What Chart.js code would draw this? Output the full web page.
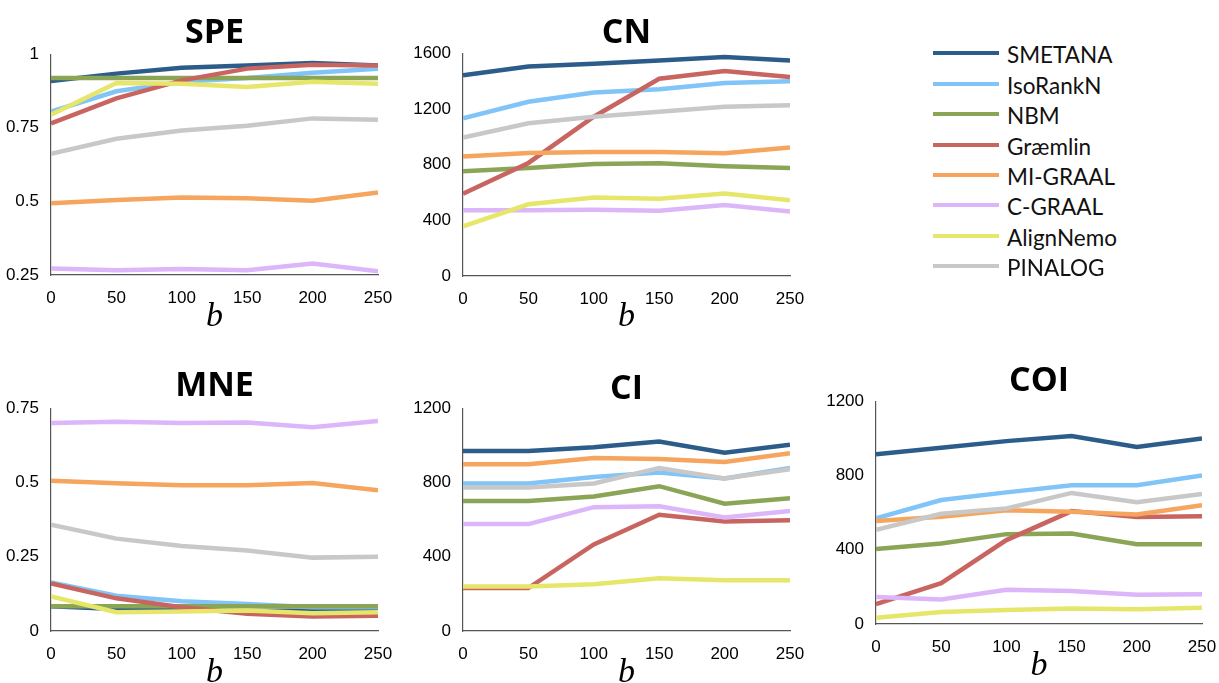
<!DOCTYPE html>
<html>
<head>
<meta charset="utf-8">
<script src="https://cdn.jsdelivr.net/npm/chart.js@4.4.1/dist/chart.umd.min.js"></script>
<style>
  html, body { margin: 0; padding: 0; background: #fff; }
  body { width: 1219px; height: 683px; position: relative; overflow: hidden; }
  canvas { position: absolute; }
  .title { position: absolute; font: 700 34px "Open Sans", sans-serif; line-height: 1; transform: translate(-50%, -50%); color: #000; white-space: nowrap; }
  .blab { position: absolute; font: italic 34px "Liberation Serif", serif; line-height: 34px; transform: translateX(-50%); color: #000; }
  .leg-line { position: absolute; left: 933px; width: 66px; height: 4px; }
  .leg-text { position: absolute; left: 1007px; font: 22.5px Lato, sans-serif; line-height: 1; transform: translateY(-50%); color: #111; white-space: nowrap; }
</style>
</head>
<body>
<script>
// x values (b) shared by every panel
const B_VALUES = [0, 50, 100, 150, 200, 250];

const METHODS = ["SMETANA", "IsoRankN", "NBM", "Græmlin", "MI-GRAAL", "C-GRAAL", "AlignNemo", "PINALOG"];
const COLORS = ["#2c5d8a", "#80c4f8", "#8aa556", "#c96560", "#f6a55e", "#dcb6f8", "#e6e66a", "#c8c8c8"];

// one row per method, same order as METHODS
const SPE = [
  [0.909, 0.934, 0.954, 0.962, 0.970, 0.962],
  [0.805, 0.874, 0.906, 0.919, 0.937, 0.951],
  [0.919, 0.919, 0.919, 0.919, 0.919, 0.919],
  [0.765, 0.850, 0.911, 0.951, 0.964, 0.962],
  [0.494, 0.505, 0.513, 0.511, 0.502, 0.530],
  [0.272, 0.266, 0.270, 0.266, 0.289, 0.263],
  [0.794, 0.902, 0.900, 0.889, 0.906, 0.900],
  [0.662, 0.713, 0.741, 0.757, 0.782, 0.777]
];

const CN = [
  [1441, 1505, 1524, 1548, 1572, 1548],
  [1132, 1251, 1318, 1341, 1386, 1398],
  [753, 776, 805, 810, 788, 776],
  [591, 812, 1144, 1417, 1472, 1429],
  [859, 883, 890, 890, 881, 923],
  [472, 472, 475, 468, 510, 463],
  [356, 515, 563, 555, 593, 544],
  [995, 1097, 1144, 1180, 1215, 1227]
];

const MNE = [
  [0.083, 0.074, 0.069, 0.067, 0.069, 0.073],
  [0.163, 0.119, 0.100, 0.091, 0.080, 0.080],
  [0.083, 0.083, 0.083, 0.083, 0.083, 0.083],
  [0.160, 0.110, 0.080, 0.058, 0.049, 0.051],
  [0.506, 0.497, 0.491, 0.491, 0.498, 0.474],
  [0.700, 0.704, 0.700, 0.702, 0.686, 0.707],
  [0.116, 0.063, 0.066, 0.069, 0.060, 0.063],
  [0.358, 0.311, 0.286, 0.271, 0.247, 0.250]
];

const CI = [
  [969, 969, 990, 1020, 960, 1003],
  [795, 795, 830, 853, 821, 878],
  [700, 700, 724, 780, 686, 715],
  [231, 231, 466, 626, 590, 596],
  [898, 898, 932, 926, 910, 958],
  [576, 576, 667, 672, 612, 647],
  [240, 240, 252, 284, 274, 274],
  [773, 773, 795, 878, 821, 871]
];

const COI = [
  [914, 949, 985, 1013, 953, 999],
  [569, 668, 709, 747, 747, 800],
  [404, 434, 484, 487, 430, 430],
  [107, 220, 452, 608, 576, 581],
  [555, 578, 612, 604, 590, 640],
  [146, 132, 185, 178, 158, 160],
  [34, 64, 75, 84, 80, 87],
  [507, 594, 622, 706, 656, 700]
];

// panel placement: plot area in page pixels + y range
const PANELS = [
  { name: "SPE", rows: SPE, area: { l: 51, r: 378, t: 52, b: 275 }, yMin: 0.25, yMax: 1, step: 0.25, titleY: 30, bBase: 326 },
  { name: "CN", rows: CN, area: { l: 463, r: 790, t: 51, b: 276 }, yMin: 0, yMax: 1600, step: 400, titleY: 30, bBase: 326 },
  { name: "MNE", rows: MNE, area: { l: 51, r: 378, t: 406, b: 631 }, yMin: 0, yMax: 0.75, step: 0.25, titleY: 383, bBase: 682 },
  { name: "CI", rows: CI, area: { l: 463, r: 790, t: 406, b: 631 }, yMin: 0, yMax: 1200, step: 400, titleY: 386, bBase: 682 },
  { name: "COI", rows: COI, area: { l: 876, r: 1202, t: 399, b: 624 }, yMin: 0, yMax: 1200, step: 400, titleY: 378, bBase: 675 }
];

const PAD_L = 60, PAD_R = 30, PAD_T = 12, PAD_B = 36;
const TICK_FONT = { family: "'Liberation Sans', Arial, sans-serif", size: 17 };
const plainNum = (v) => String(+Number(v).toFixed(4));

function addEl(cls, text, x, y) {
  const d = document.createElement("div");
  d.className = cls;
  d.textContent = text;
  d.style.left = x + "px";
  d.style.top = y + "px";
  document.body.appendChild(d);
  return d;
}

function makePanel(p) {
  const a = p.area;
  const cv = document.createElement("canvas");
  const w = a.r - a.l + PAD_L + PAD_R;
  const h = a.b - a.t + PAD_T + PAD_B;
  cv.width = w; cv.height = h;
  cv.style.width = w + "px"; cv.style.height = h + "px";
  cv.style.left = (a.l - PAD_L) + "px";
  cv.style.top = (a.t - PAD_T) + "px";
  document.body.appendChild(cv);

  const datasets = p.rows.map((vals, i) => ({
    label: METHODS[i],
    data: vals.map((v, k) => ({ x: B_VALUES[k], y: v })),
    borderColor: COLORS[i],
    backgroundColor: COLORS[i],
    borderWidth: 4.5,
    pointRadius: 0,
    tension: 0,
    order: -i
  }));

  new Chart(cv, {
    type: "line",
    data: { datasets },
    options: {
      responsive: false,
      animation: false,
      events: [],
      layout: { padding: { left: 0, right: PAD_R, top: PAD_T, bottom: 0 } },
      plugins: { legend: { display: false }, tooltip: { enabled: false } },
      scales: {
        x: {
          type: "linear",
          min: 0, max: 250,
          afterFit: (s) => { s.height = PAD_B; },
          ticks: { stepSize: 50, color: "#000", font: TICK_FONT, padding: 5, maxRotation: 0, callback: plainNum },
          grid: { display: false },
          border: { display: true, color: "#555", width: 1.2 }
        },
        y: {
          min: p.yMin, max: p.yMax,
          afterFit: (s) => { s.width = PAD_L; },
          ticks: { stepSize: p.step, color: "#000", font: TICK_FONT, padding: 4, callback: plainNum },
          grid: { display: false },
          border: { display: true, color: "#555", width: 1.2 }
        }
      }
    }
  });

  const cx = (a.l + a.r) / 2;
  addEl("title", p.name, cx, p.titleY);
  addEl("blab", "b", cx, p.bBase - 28.5);
}

PANELS.forEach(makePanel);

// legend
METHODS.forEach((m, i) => {
  const y = 53.3 + i * 30.4;
  const ln = document.createElement("div");
  ln.className = "leg-line";
  ln.style.top = (y - 2) + "px";
  ln.style.background = COLORS[i];
  document.body.appendChild(ln);
  addEl("leg-text", m, 1007, y + 2);
});
</script>
</body>
</html>
